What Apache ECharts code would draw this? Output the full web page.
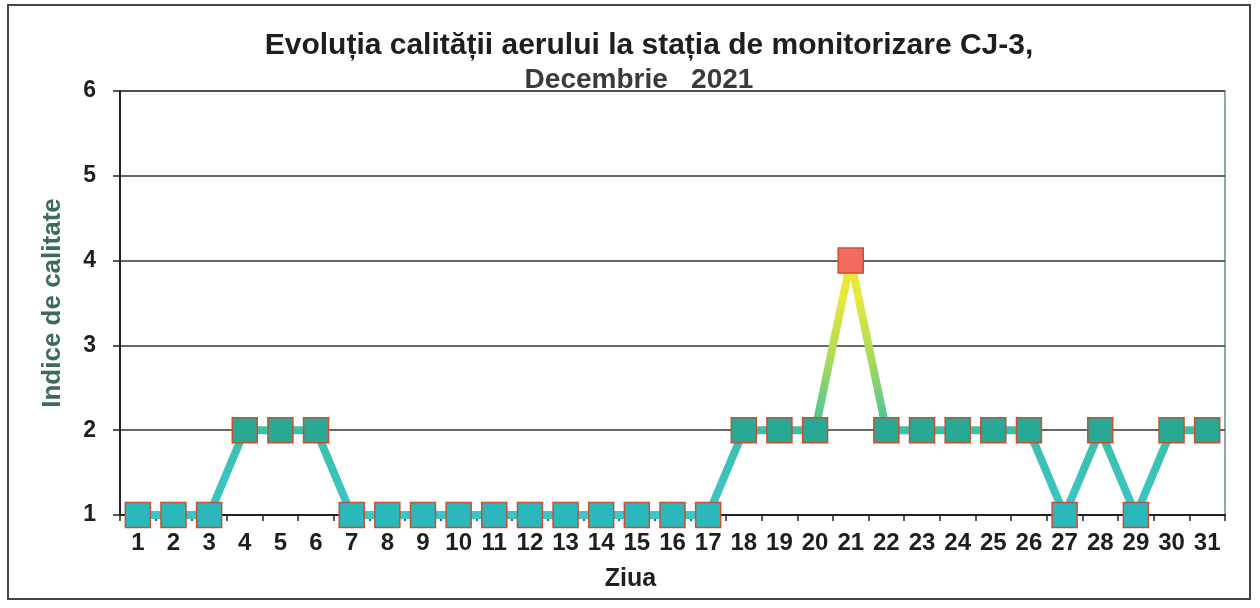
<!DOCTYPE html>
<html>
<head>
<meta charset="utf-8">
<title>Evoluția calității aerului CJ-3</title>
<script src="https://cdn.jsdelivr.net/npm/echarts@6/dist/echarts.min.js"></script>
<style>
  html, body { margin: 0; padding: 0; background: #fff; }
  #chart { width: 1260px; height: 608px; }
</style>
</head>
<body>
<div id="chart"></div>
<script>
var zile = ['1', '2', '3', '4', '5', '6', '7', '8', '9', '10', '11', '12', '13', '14', '15', '16',
  '17', '18', '19', '20', '21', '22', '23', '24', '25', '26', '27', '28', '29', '30', '31']
var indice = [1, 1, 1, 2, 2, 2, 1, 1, 1, 1, 1, 1, 1, 1, 1, 1, 1, 2, 2, 2, 4, 2, 2, 2, 2, 2, 1, 2, 1, 2, 2]
var titlu = 'Evoluția calității aerului la stația de monitorizare CJ-3,'
var subtitlu = 'Decembrie   2021'

var font = '"Liberation Sans", Arial, sans-serif'

// culoare marker dupa indice
function culoareMarker (v) {
  if (v >= 4) return '#f26a60'
  if (v >= 2) return '#2aa896'
  return '#2bb8bc'
}

var chart = echarts.init(document.getElementById('chart'))
chart.setOption({
  backgroundColor: '#fff',
  animation: false,
  textStyle: { fontFamily: font },
  title: [
    {
      text: titlu,
      left: 644,
      textAlign: 'center',
      top: 26,
      textStyle: { fontSize: 30, fontWeight: 'bold', color: '#1e1e1e', fontFamily: font }
    },
    {
      text: subtitlu,
      left: 634,
      textAlign: 'center',
      top: 61,
      textStyle: { fontSize: 28, fontWeight: 'bold', color: '#3a3a3a', fontFamily: font }
    }
  ],
  graphic: [
    {
      type: 'rect',
      shape: { x: 8, y: 5, width: 1242, height: 594 },
      style: { fill: 'none', stroke: '#444', lineWidth: 2 },
      silent: true
    }
  ],
  grid: {
    left: 120,
    right: 35,
    top: 91,
    bottom: 93,
    show: true,
    borderColor: '#6b8a90',
    borderWidth: 1.5
  },
  xAxis: {
    type: 'category',
    data: zile,
    boundaryGap: true,
    name: 'Ziua',
    nameLocation: 'middle',
    nameGap: 52,
    nameTextStyle: { fontSize: 25, fontWeight: 'bold', color: '#1e1e1e', padding: [0, 84, 0, 0] },
    axisLine: { lineStyle: { color: '#222', width: 2 } },
    axisTick: { show: true, length: 6, lineStyle: { color: '#222', width: 1.5 } },
    axisLabel: { fontSize: 24, fontWeight: 'bold', color: '#1e1e1e', margin: 16 }
  },
  yAxis: {
    type: 'value',
    min: 1,
    max: 6,
    interval: 1,
    name: 'Indice de calitate',
    nameLocation: 'middle',
    nameGap: 54,
    nameTextStyle: { fontSize: 26, fontWeight: 'bold', color: '#3d6a5e' },
    axisLine: { show: true, lineStyle: { color: '#222', width: 2 } },
    axisTick: { show: true, length: 7, lineStyle: { color: '#222', width: 1.5 } },
    axisLabel: { fontSize: 23, fontWeight: 'bold', color: '#1e1e1e', margin: 24 },
    splitLine: { lineStyle: { color: '#333', width: 1.5 } }
  },
  series: [
    {
      name: 'Indice',
      type: 'line',
      data: indice,
      symbol: 'rect',
      symbolSize: 25,
      lineStyle: {
        width: 8,
        color: new echarts.graphic.LinearGradient(0, 1, 0, 0, [
          { offset: 0, color: '#3cc6cc' },
          { offset: 0.33, color: '#3bbfa8' },
          { offset: 0.6, color: '#a6da5a' },
          { offset: 0.85, color: '#e8e83c' },
          { offset: 1, color: '#f2e23a' }
        ])
      },
      itemStyle: {
        color: function (p) { return culoareMarker(p.value) },
        borderColor: '#c8502c',
        borderWidth: 1.5
      },
      z: 5
    }
  ]
})
</script>
</body>
</html>
